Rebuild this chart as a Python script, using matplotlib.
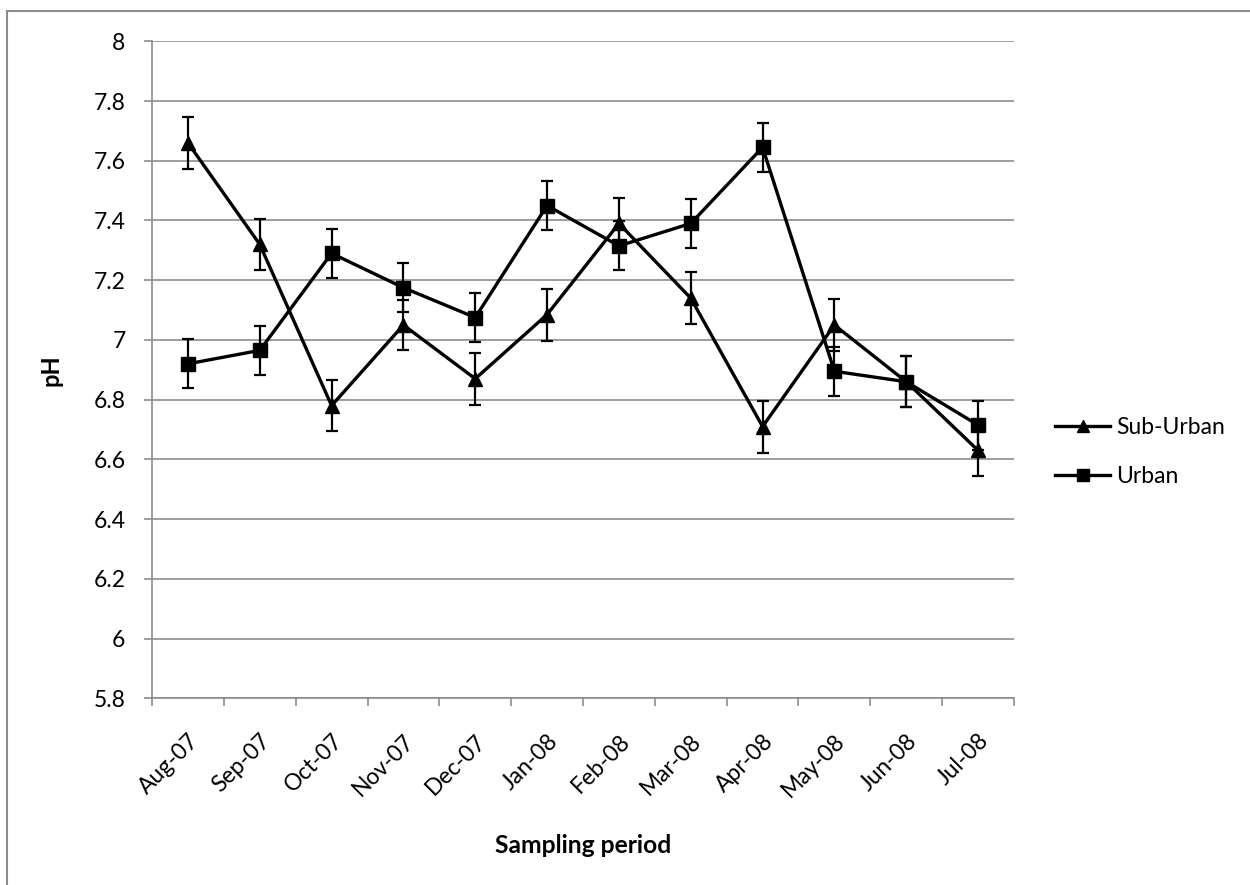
import numpy as np
import matplotlib
matplotlib.use("Agg")
import matplotlib.pyplot as plt
from matplotlib.patches import Rectangle
from matplotlib.lines import Line2D

plt.rcParams['font.family'] = ['Lato', 'DejaVu Sans']

# pH per month
months = ["Aug-07", "Sep-07", "Oct-07", "Nov-07", "Dec-07", "Jan-08",
          "Feb-08", "Mar-08", "Apr-08", "May-08", "Jun-08", "Jul-08"]
sub_urban = [7.66, 7.32, 6.78, 7.05, 6.87, 7.085, 7.39, 7.14, 6.71, 7.05, 6.86, 6.63]
urban = [6.92, 6.965, 7.29, 7.175, 7.075, 7.45, 7.315, 7.39, 7.645, 6.895, 6.86, 6.715]
sub_urban_err = [0.087, 0.086, 0.086, 0.085, 0.087, 0.087, 0.087, 0.087, 0.087, 0.087, 0.085, 0.087]
urban_err = [0.082, 0.082, 0.081, 0.083, 0.082, 0.082, 0.082, 0.081, 0.082, 0.082, 0.085, 0.082]

grey = "#8c8c8c"
fs = 16.5

fig = plt.figure(figsize=(12.5, 8.85), dpi=100)
ax = fig.add_axes([0.1216, 0.2110, 0.6896, 0.7423])

x = np.arange(len(months))
style = dict(color="black", lw=2.4, ecolor="black", elinewidth=1.6,
             capsize=4.5, capthick=1.6, zorder=3)
ax.errorbar(x, sub_urban, yerr=sub_urban_err, marker="^", markersize=10, **style)
ax.errorbar(x, urban, yerr=urban_err, marker="s", markersize=9.5, **style)

ax.set_xlim(-0.5, len(months) - 0.5)
ax.set_ylim(5.8, 8.0)
ax.set_yticks(np.arange(5.8, 8.01, 0.2))
ax.set_yticklabels(["5.8", "6", "6.2", "6.4", "6.6", "6.8", "7", "7.2",
                    "7.4", "7.6", "7.8", "8"])
ax.set_xticks(x)
ax.set_xticklabels(months, rotation=45, ha="right", va="top",
                   rotation_mode="anchor")
ax.set_xticks(np.arange(-0.5, len(months)), minor=True)

ax.grid(axis="y", color=grey, lw=1.2)
ax.set_axisbelow(True)
for s in ["top", "right"]:
    ax.spines[s].set_visible(False)
for s in ["left", "bottom"]:
    ax.spines[s].set_color(grey)
    ax.spines[s].set_linewidth(1.2)

ax.tick_params(axis="y", which="major", length=6, width=1.2, color=grey,
               labelsize=fs, pad=13)
ax.tick_params(axis="x", which="major", length=0, labelsize=fs, pad=23)
ax.tick_params(axis="x", which="minor", length=6, width=1.2, color=grey)

ax.set_ylabel("pH", fontsize=fs + 0.5, fontweight="bold")
ax.yaxis.set_label_coords(-0.104, 0.5)
ax.set_xlabel("Sampling period", fontsize=fs + 1.2, fontweight="bold", va="center")
ax.xaxis.set_label_coords(0.5, -0.224)

handles = [Line2D([], [], color="black", lw=2.4, marker="^", markersize=8),
           Line2D([], [], color="black", lw=2.4, marker="s", markersize=8)]
ax.legend(handles, ["Sub-Urban", "Urban"], loc="center left",
          bbox_to_anchor=(0.844, 0.489), bbox_transform=fig.transFigure,
          frameon=False, fontsize=fs, borderpad=0, borderaxespad=0,
          handlelength=2.4, handletextpad=0.25, labelspacing=1.2)

# outer chart frame
fig.patches.append(Rectangle((0.0056, -0.05), 1.1, 0.0376 + 1.0,
                             transform=fig.transFigure, fill=False,
                             edgecolor=grey, lw=1.5))

fig.savefig("out.png", dpi=100)
